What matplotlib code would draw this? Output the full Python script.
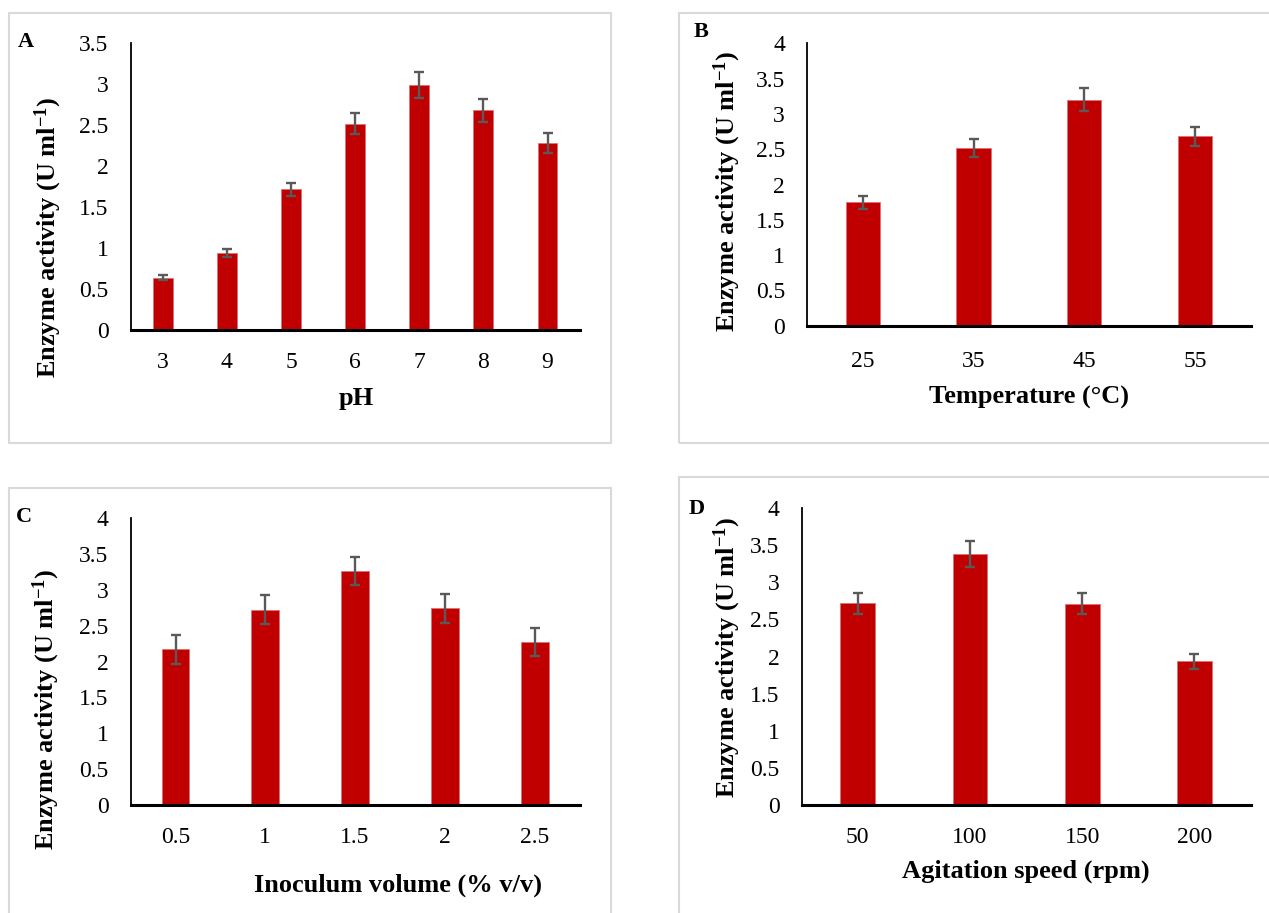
import matplotlib
matplotlib.use("Agg")
import matplotlib.pyplot as plt
from matplotlib.patches import Rectangle

plt.rcParams['font.family'] = ['Liberation Serif', 'DejaVu Serif']
plt.rcParams['mathtext.default'] = 'regular'

# data
ph = ["3", "4", "5", "6", "7", "8", "9"]
ph_act = [0.64, 0.94, 1.72, 2.52, 2.99, 2.68, 2.28]
ph_err = [0.03, 0.05, 0.08, 0.13, 0.16, 0.14, 0.12]

temp = ["25", "35", "45", "55"]
temp_act = [1.75, 2.52, 3.20, 2.68]
temp_err = [0.09, 0.13, 0.16, 0.13]

inoc = ["0.5", "1", "1.5", "2", "2.5"]
inoc_act = [2.17, 2.72, 3.26, 2.74, 2.27]
inoc_err = [0.20, 0.20, 0.20, 0.20, 0.20]

speed = ["50", "100", "150", "200"]
speed_act = [2.72, 3.38, 2.71, 1.94]
speed_err = [0.14, 0.18, 0.14, 0.10]

W, H = 1269, 913
fig = plt.figure(figsize=(W / 100, H / 100), dpi=100)


def fx(x):
    return x / W


def fy(y):
    return 1 - y / H


ylab = "Enzyme activity (U ml$^{-1}$)"

# panel: categories, values, errors, ylim, axes box (px), letter pos, ylabel pos, xlabel, xlabel pos, frame, x tick pad
panels = [
    (ph, ph_act, ph_err, 3.5, (130.6, 43.3, 579.6, 330.0), "A", (26, 42), (48, 237), "pH", (356, 398),
     (9, 13, 611, 443), 16),
    (temp, temp_act, temp_err, 4, (807.3, 43.3, 1250.5, 325.7), "B", (701, 32), (727, 191),
     "Temperature (°C)", (1029, 397), (679, 13, 1290, 443), 18.5),
    (inoc, inoc_act, inoc_err, 4, (130.6, 517.7, 579.6, 805.3), "C", (24, 517), (46, 709),
     "Inoculum volume (% v/v)", (398, 885), (9, 488, 611, 940), 15.5),
    (speed, speed_act, speed_err, 4, (801.7, 508.0, 1250.5, 805.3), "D", (697, 509), (727, 657),
     "Agitation speed (rpm)", (1026, 871), (679, 477, 1290, 940), 15.5),
]

for cats, vals, errs, ymax, box, letter, lpos, ypos, xlab, xpos, frame, xpad in panels:
    x0, y0, x1, y1 = frame
    fig.add_artist(Rectangle((fx(x0), fy(y1)), fx(x1 - x0), (y1 - y0) / H, transform=fig.transFigure,
                             fill=False, edgecolor='#D9D9D9', linewidth=1.5))

    l, t, r, b = box
    ax = fig.add_axes([fx(l), fy(b), fx(r - l), (b - t) / H])
    pos = range(len(cats))
    ax.bar(pos, vals, width=0.31, color='#C00000', edgecolor='#E07070', linewidth=0.6,
           yerr=errs, error_kw=dict(ecolor='#595959', elinewidth=1.7, capsize=3.8, capthick=1.7))
    ax.set_xlim(-0.5, len(cats) - 0.5)
    ax.set_ylim(0, ymax)
    ax.set_yticks([i * 0.5 for i in range(int(ymax * 2) + 1)])
    ax.set_yticklabels(["%g" % (i * 0.5) for i in range(int(ymax * 2) + 1)])
    ax.set_xticks(list(pos))
    ax.set_xticklabels(cats)
    ax.tick_params(axis='both', length=0, labelsize=17)
    ax.tick_params(axis='y', pad=16)
    ax.tick_params(axis='x', pad=xpad)
    for s in ['top', 'right']:
        ax.spines[s].set_visible(False)
    ax.spines['left'].set_linewidth(1.3)
    ax.spines['bottom'].set_linewidth(2.2)

    fig.text(fx(lpos[0]), fy(lpos[1]), letter, fontsize=16, fontweight='bold', ha='center', va='center')
    fig.text(fx(ypos[0]), fy(ypos[1]), ylab, fontsize=19, fontweight='bold', rotation=90,
             ha='center', va='center')
    fig.text(fx(xpos[0]), fy(xpos[1]), xlab, fontsize=19, fontweight='bold', ha='center', va='center')

fig.savefig("out.png", dpi=100)
